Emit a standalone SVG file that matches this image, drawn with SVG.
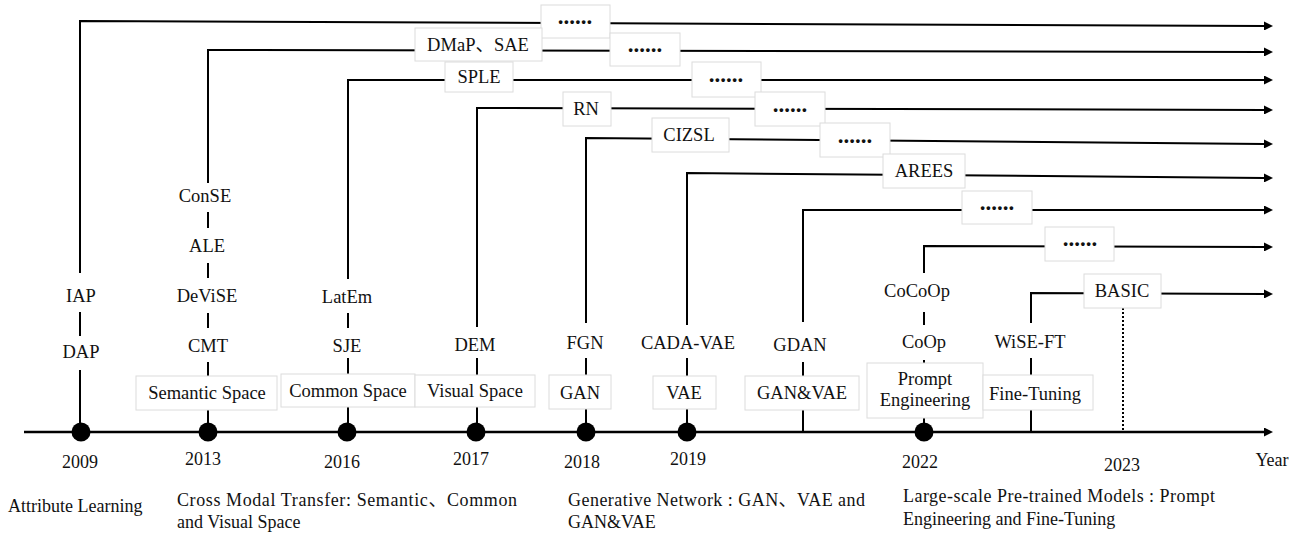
<svg xmlns="http://www.w3.org/2000/svg" width="1314" height="536" viewBox="0 0 1314 536">
  <defs>
    <marker id="arrow" viewBox="0 0 10 10" refX="0" refY="5" markerWidth="10" markerHeight="9" markerUnits="userSpaceOnUse" orient="auto">
      <path d="M0,0 L10,5 L0,10 z" fill="#000"/>
    </marker>
  </defs>
  <style>
    .ln{stroke:#000;stroke-width:2;fill:none}
    .ax{stroke:#000;stroke-width:2.5;fill:none}
    .dash{stroke:#000;stroke-width:2;stroke-dasharray:2 2;fill:none}
    .box{fill:#fff;stroke:#dcdcdc;stroke-width:1}
    .pt{fill:#000}
    text{font-family:"Liberation Serif","Times New Roman","Noto Sans CJK SC",serif;fill:#111}
    .t{font-size:18.5px;text-anchor:middle}
    .dots{font-size:23px;font-weight:bold;text-anchor:middle}
    .yr{font-size:18px;text-anchor:middle}
    .cap{font-size:18px}
  </style>

  <!-- connectors: branch lines, axis and tick segments -->
  <g id="connectors">
    <path class="ln" d="M80,273 V21 L1264,26" marker-end="url(#arrow)"/>
    <path class="ln" d="M80,312 V336 M80,370 V432"/>

    <path class="ln" d="M208,183 V50 L1264,52" marker-end="url(#arrow)"/>
    <path class="ln" d="M208,212 V228 M208,263 V278 M208,313 V328 M208,362 V432"/>

    <path class="ln" d="M348,279 V80 L1264,80" marker-end="url(#arrow)"/>
    <path class="ln" d="M348,313 V328 M348,358 V432"/>

    <path class="ln" d="M477,327 V108 L1264,110" marker-end="url(#arrow)"/>
    <path class="ln" d="M477,358 V432"/>

    <path class="ln" d="M586,323 V138 L1264,144" marker-end="url(#arrow)"/>
    <path class="ln" d="M586,358 V432"/>

    <path class="ln" d="M687,325 V173 L1264,178" marker-end="url(#arrow)"/>
    <path class="ln" d="M687,358 V432"/>

    <path class="ln" d="M803,322 V210 L1264,210" marker-end="url(#arrow)"/>
    <path class="ln" d="M803,362 V432"/>

    <path class="ln" d="M924,273 V246 L1264,247" marker-end="url(#arrow)"/>
    <path class="ln" d="M924,312 V325 M924,360 V432"/>

    <path class="ln" d="M1031,323 V293 L1264,294" marker-end="url(#arrow)"/>
    <path class="ln" d="M1031,358 V432"/>

    <path class="dash" d="M1123,308 V431"/>

    <path class="ax" d="M24,432 H1264" marker-end="url(#arrow)"/>
  </g>

  <!-- boxed labels along the branch lines -->
  <g id="n-dots1"><rect class="box" x="541" y="5" width="69" height="33"/><text class="dots" x="575" y="24">......</text></g>
  <g id="n-dmap"><rect class="box" x="415" y="28" width="127" height="33"/><text class="t" x="478" y="51">DMaP、SAE</text></g>
  <g id="n-dots2"><rect class="box" x="610" y="33" width="70" height="33"/><text class="dots" x="645" y="52">......</text></g>
  <g id="n-sple"><rect class="box" x="445" y="62" width="68" height="30"/><text class="t" x="479" y="83">SPLE</text></g>
  <g id="n-dots3"><rect class="box" x="692" y="62" width="69" height="35"/><text class="dots" x="726" y="82">......</text></g>
  <g id="n-rn"><rect class="box" x="563" y="92" width="48" height="34"/><text class="t" x="586" y="115">RN</text></g>
  <g id="n-dots4"><rect class="box" x="755" y="92" width="70" height="34"/><text class="dots" x="790" y="112">......</text></g>
  <g id="n-cizsl"><rect class="box" x="652" y="118" width="77" height="34"/><text class="t" x="689" y="141">CIZSL</text></g>
  <g id="n-dots5"><rect class="box" x="820" y="123" width="70" height="34"/><text class="dots" x="855" y="143">......</text></g>
  <g id="n-arees"><rect class="box" x="883" y="154" width="82" height="34"/><text class="t" x="924" y="177">AREES</text></g>
  <g id="n-dots6"><rect class="box" x="962" y="191" width="70" height="33"/><text class="dots" x="997" y="210">......</text></g>
  <g id="n-dots7"><rect class="box" x="1045" y="227" width="69" height="34"/><text class="dots" x="1080" y="246">......</text></g>
  <g id="n-basic"><rect class="box" x="1084" y="274" width="77" height="34"/><text class="t" x="1122" y="297">BASIC</text></g>

  <!-- method names stacked on each branch -->
  <g id="n-iap"><text class="t" x="81" y="302">IAP</text></g>
  <g id="n-dap"><text class="t" x="81" y="358">DAP</text></g>
  <g id="n-conse"><text class="t" x="205" y="202">ConSE</text></g>
  <g id="n-ale"><text class="t" x="207" y="252">ALE</text></g>
  <g id="n-devise"><text class="t" x="207" y="302">DeViSE</text></g>
  <g id="n-cmt"><text class="t" x="208" y="352">CMT</text></g>
  <g id="n-latem"><text class="t" x="347" y="303">LatEm</text></g>
  <g id="n-sje"><text class="t" x="347" y="352">SJE</text></g>
  <g id="n-dem"><text class="t" x="475" y="351">DEM</text></g>
  <g id="n-fgn"><text class="t" x="585" y="349">FGN</text></g>
  <g id="n-cadavae"><text class="t" x="688" y="349">CADA-VAE</text></g>
  <g id="n-gdan"><text class="t" x="800" y="351">GDAN</text></g>
  <g id="n-cocoop"><text class="t" x="917" y="297">CoCoOp</text></g>
  <g id="n-coop"><text class="t" x="924" y="348">CoOp</text></g>
  <g id="n-wiseft"><text class="t" x="1030" y="348">WiSE-FT</text></g>

  <!-- category boxes just above the axis -->
  <g id="n-semantic"><rect class="box" x="136" y="376" width="141" height="34"/><text class="t" x="207" y="399">Semantic Space</text></g>
  <g id="n-common"><rect class="box" x="281" y="374" width="134" height="33"/><text class="t" x="348" y="397">Common Space</text></g>
  <g id="n-visual"><rect class="box" x="415" y="375" width="120" height="32"/><text class="t" x="475" y="397">Visual Space</text></g>
  <g id="n-gan"><rect class="box" x="549" y="375" width="62" height="34"/><text class="t" x="580" y="399">GAN</text></g>
  <g id="n-vae"><rect class="box" x="653" y="376" width="63" height="33"/><text class="t" x="684" y="399">VAE</text></g>
  <g id="n-ganvae"><rect class="box" x="745" y="376" width="114" height="34"/><text class="t" x="802" y="399">GAN&amp;VAE</text></g>
  <g id="n-prompt"><rect class="box" x="867" y="363" width="116" height="55"/><text class="t" x="925" y="385">Prompt</text><text class="t" x="925" y="406">Engineering</text></g>
  <g id="n-finetune"><rect class="box" x="983" y="375" width="110" height="35"/><text class="t" x="1035" y="400">Fine-Tuning</text></g>

  <!-- year markers on the axis -->
  <g id="timeline">
    <circle class="pt" cx="81" cy="432" r="9.5"/>
    <circle class="pt" cx="208" cy="432" r="9.5"/>
    <circle class="pt" cx="347" cy="432" r="9.5"/>
    <circle class="pt" cx="476" cy="432" r="9.5"/>
    <circle class="pt" cx="586" cy="432" r="9.5"/>
    <circle class="pt" cx="687" cy="432" r="9.5"/>
    <circle class="pt" cx="924" cy="432" r="9.5"/>
    <text class="yr" x="80" y="468">2009</text>
    <text class="yr" x="203" y="465">2013</text>
    <text class="yr" x="342" y="468">2016</text>
    <text class="yr" x="471" y="465">2017</text>
    <text class="yr" x="582" y="468">2018</text>
    <text class="yr" x="688" y="465">2019</text>
    <text class="yr" x="920" y="468">2022</text>
    <text class="yr" x="1122" y="471">2023</text>
    <text class="yr" x="1272" y="466">Year</text>
  </g>

  <!-- era captions -->
  <g id="captions">
    <text class="cap" x="8" y="512">Attribute Learning</text>
    <text class="cap" x="177" y="506" textLength="340" lengthAdjust="spacing">Cross Modal Transfer: Semantic、Common</text>
    <text class="cap" x="177" y="528">and Visual Space</text>
    <text class="cap" x="568" y="506" textLength="297" lengthAdjust="spacing">Generative Network : GAN、VAE and</text>
    <text class="cap" x="568" y="528">GAN&amp;VAE</text>
    <text class="cap" x="903" y="502" textLength="312" lengthAdjust="spacing">Large-scale Pre-trained Models : Prompt</text>
    <text class="cap" x="903" y="525">Engineering and Fine-Tuning</text>
  </g>
</svg>
